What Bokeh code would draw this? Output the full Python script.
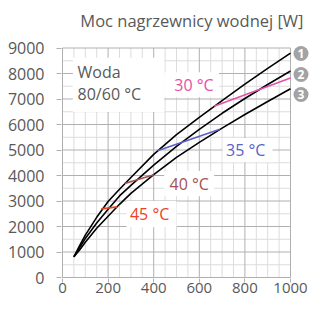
from bokeh.plotting import figure
from bokeh.models import Range1d, FixedTicker, Label
from bokeh.core.properties import value
from bokeh.embed import file_html
from bokeh.resources import INLINE

# ---- data ----
flow = [50, 75, 100, 150, 200, 250, 300, 400, 500, 600, 700, 800, 900, 1000]
power_1 = [810, 1250, 1660, 2360, 2980, 3460, 3920, 4830, 5600, 6280, 6940, 7580, 8200, 8800]
power_2 = [810, 1170, 1530, 2140, 2680, 3200, 3610, 4410, 5140, 5810, 6440, 7020, 7570, 8100]
power_3 = [810, 1080, 1380, 1930, 2400, 2870, 3300, 4030, 4710, 5300, 5860, 6390, 6900, 7400]
curve_ids = ["1", "2", "3"]

iso_names = ["30 °C", "35 °C", "40 °C", "45 °C"]
iso_x0 = [665, 417, 273, 170]
iso_y0 = [6720, 4975, 3685, 2690]
iso_x1 = [1000, 690, 401, 240]
iso_y1 = [7820, 5810, 4030, 2770]
iso_colors = ["#e64fa6", "#5a62c8", "#a3514f", "#f0401e"]

x_ticks = [0, 200, 400, 600, 800, 1000]
x_minor = [50, 100, 150, 250, 300, 350, 450, 500, 550, 650, 700, 750, 850, 900, 950]
y_ticks = [0, 1000, 2000, 3000, 4000, 5000, 6000, 7000, 8000, 9000]
y_minor = [500, 1500, 2500, 3500, 4500, 5500, 6500, 7500, 8500]

title_text = "Moc nagrzewnicy wodnej [W]"
medium_text = ["Woda", "80/60 °C"]

FONT = "Open Sans"
GRAY_TXT = "#595959"
MAJOR = "#b0b0b0"
MINOR = "#dcdcdc"

# reference-pixel -> data helpers (layout only)
def rx(px):
    return (px - 62) / 0.242

def ry(py):
    return (284 - py) / 0.02633

W, H = 309, 302
LEFT, BOTTOM = 61, 24
X0PX, Y0PX = 62, 277          # canvas pixel of data (0, 0)
SX = (290 - X0PX) / 1000      # px per x unit
SY = (Y0PX - 47.5) / 9000     # px per y unit
fw, fh = W - LEFT, H - BOTTOM
xs = -(X0PX - LEFT) / SX
ys = -(H - BOTTOM - Y0PX) / SY

def cx(px):   # canvas pixel -> data x
    return (px - X0PX) / SX

def cy(py):   # canvas pixel -> data y
    return (Y0PX - py) / SY

p = figure(width=W, height=H,
           x_range=Range1d(xs, xs + fw / SX), y_range=Range1d(ys, ys + fh / SY),
           output_backend="svg", toolbar_location=None,
           min_border_left=LEFT, min_border_right=0, min_border_top=0,
           min_border_bottom=BOTTOM)
p.outline_line_color = None
p.background_fill_color = "white"
p.border_fill_color = "white"
p.xgrid.visible = False
p.ygrid.visible = False

# grid drawn from tick arrays
p.segment(x0=x_minor, y0=[0] * len(x_minor), x1=x_minor, y1=[9000] * len(x_minor),
          line_color=MINOR, line_width=1)
p.segment(x0=[0] * len(y_minor), y0=y_minor, x1=[1000] * len(y_minor), y1=y_minor,
          line_color=MINOR, line_width=1)
p.segment(x0=x_ticks, y0=[0] * len(x_ticks), x1=x_ticks, y1=[9000] * len(x_ticks),
          line_color=MAJOR, line_width=1)
p.segment(x0=[0] * len(y_ticks), y0=y_ticks, x1=[1000] * len(y_ticks), y1=y_ticks,
          line_color=MAJOR, line_width=1)

# axes
for ax, ticks in ((p.xaxis, x_ticks), (p.yaxis, y_ticks)):
    ax.ticker = FixedTicker(ticks=ticks)
    ax.axis_line_color = None
    ax.major_tick_line_color = MAJOR
    ax.major_tick_in = 0
    ax.minor_tick_line_color = None
    ax.major_label_text_font = FONT
    ax.major_label_text_color = GRAY_TXT
p.yaxis.major_label_text_font_size = "16px"
p.xaxis.major_label_text_font_size = "15px"
p.xaxis.bounds = (0, 1000)
p.yaxis.bounds = (0, 9000)
p.xaxis.major_tick_out = 4
p.yaxis.major_tick_out = 5
p.xaxis.major_label_standoff = 0
p.yaxis.major_label_standoff = 12

# white boxes behind labels
boxes = [(73, 170, 57, 113), (170, 228, 72, 98), (232, 285, 140, 165),
         (170, 223, 174, 200), (130, 183, 205, 232)]
p.quad(left=[rx(b[0]) for b in boxes], right=[rx(b[1]) for b in boxes],
       top=[ry(b[2]) for b in boxes], bottom=[ry(b[3]) for b in boxes],
       fill_color="white", line_color=None)

# curves
for vals in (power_1, power_2, power_3):
    p.line(flow, vals, line_color="black", line_width=1.6)

# isotherm segments
p.segment(x0=iso_x0, y0=iso_y0, x1=iso_x1, y1=iso_y1, line_color=iso_colors, line_width=1.6)

# isotherm labels
label_pos = [(201.5, 85), (256.5, 152), (196.5, 187), (154.5, 218)]
for name, col, (lx, ly) in zip(iso_names, iso_colors, label_pos):
    p.add_layout(Label(x=rx(lx), y=ry(ly), text=name, text_color=col,
                       text_font=FONT, text_font_size="16px",
                       text_align="center", text_baseline="middle"))

# medium text
for t, ly in zip(medium_text, (72, 95)):
    p.add_layout(Label(x=rx(78), y=ry(ly), text=t, text_color=GRAY_TXT,
                       text_font=FONT, text_font_size="16px",
                       text_align="left", text_baseline="middle"))

# title
p.add_layout(Label(x=cx(303), y=cy(20), text=title_text, text_color=GRAY_TXT,
                   text_font=FONT, text_font_size="16.5px",
                   text_align="right", text_baseline="middle"))

# curve number badges
badge_y = [cy(53), cy(74), cy(94)]
badge_x = cx(300.5)
p.scatter([badge_x] * 3, badge_y, size=15, fill_color="#a3a3a3", line_color=None)
p.text(x=[badge_x] * 3, y=badge_y, text=curve_ids, text_color="white",
       text_font=value(FONT), text_font_size="12px", text_font_style="bold",
       text_align="center", text_baseline="middle")

open("out.html", "w").write(file_html(p, INLINE))
